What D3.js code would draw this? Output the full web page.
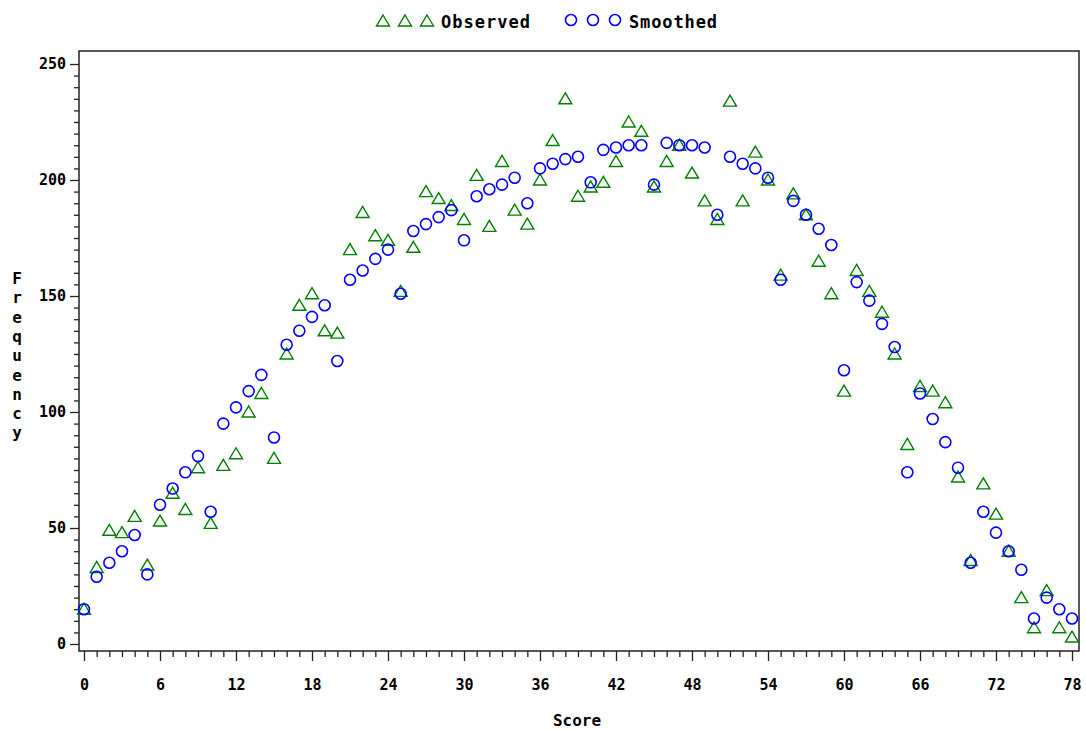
<!DOCTYPE html>
<html>
<head>
<meta charset="utf-8">
<script src="https://cdn.jsdelivr.net/npm/d3@7"></script>
<style>
  body { margin: 0; background: #fff; }
  svg text { font-family: "DejaVu Sans Mono", monospace; font-weight: bold; fill: #000; }
</style>
</head>
<body>
<svg id="chart" width="1086" height="730"></svg>
<script>
// scores 0..78
var scores = d3.range(0, 79);

// observed frequencies (triangles)
var observed = [15, 33, 49, 48, 55, 34, 53, 65, 58, 76,
  52, 77, 82, 100, 108, 80, 125, 146, 151, 135,
  134, 170, 186, 176, 174, 152, 171, 195, 192, 189,
  183, 202, 180, 208, 187, 181, 200, 217, 235, 193,
  197, 199, 208, 225, 221, 197, 208, 215, 203, 191,
  183, 234, 191, 212, 200, 159, 194, 185, 165, 151,
  109, 161, 152, 143, 125, 86, 111, 109, 104, 72,
  36, 69, 56, 40, 20, 7, 23, 7, 3];

// smoothed frequencies (circles)
var smoothed = [15, 29, 35, 40, 47, 30, 60, 67, 74, 81,
  57, 95, 102, 109, 116, 89, 129, 135, 141, 146,
  122, 157, 161, 166, 170, 151, 178, 181, 184, 187,
  174, 193, 196, 198, 201, 190, 205, 207, 209, 210,
  199, 213, 214, 215, 215, 198, 216, 215, 215, 214,
  185, 210, 207, 205, 201, 157, 191, 185, 179, 172,
  118, 156, 148, 138, 128, 74, 108, 97, 87, 76,
  35, 57, 48, 40, 32, 11, 20, 15, 11];

var xTicks = d3.range(0, 79, 6);
var yTicks = [0, 50, 100, 150, 200, 250];

var svg = d3.select('#chart');

var frame = {left: 79, top: 51, right: 1079, bottom: 651};

var x = d3.scaleLinear().domain([0, 78]).range([84, 1072]);
var y = d3.scaleLinear().domain([0, 250]).range([644, 64]);

var green = '#008000', blue = '#0000ff';

// plot frame
svg.append('rect')
  .attr('x', frame.left).attr('y', frame.top)
  .attr('width', frame.right - frame.left)
  .attr('height', frame.bottom - frame.top)
  .attr('fill', 'none').attr('stroke', '#222').attr('stroke-width', 1.5);

// x axis: minor ticks every unit, major every 6
var xMinor = svg.append('g').attr('transform', 'translate(0,' + frame.bottom + ')')
  .call(d3.axisBottom(x).tickValues(d3.range(0, 79).filter(function(d){ return d % 6; }))
    .tickSize(6).tickFormat(''));
var xMajor = svg.append('g').attr('transform', 'translate(0,' + frame.bottom + ')')
  .call(d3.axisBottom(x).tickValues(xTicks).tickSize(10).tickPadding(18));
[xMinor, xMajor].forEach(function(g){
  g.select('.domain').remove();
  g.selectAll('line').attr('stroke', '#222').attr('stroke-width', 1.3);
});
xMajor.selectAll('text').style('font-size', '15px').attr('fill', '#000');

// y axis: minor every 5, major every 50
var yMinor = svg.append('g').attr('transform', 'translate(' + frame.left + ',0)')
  .call(d3.axisLeft(y).tickValues(d3.range(0, 251, 5).filter(function(d){ return d % 50; }))
    .tickSize(5).tickFormat(''));
var yMajor = svg.append('g').attr('transform', 'translate(' + frame.left + ',0)')
  .call(d3.axisLeft(y).tickValues(yTicks).tickSize(9).tickPadding(4));
[yMinor, yMajor].forEach(function(g){
  g.select('.domain').remove();
  g.selectAll('line').attr('stroke', '#222').attr('stroke-width', 1.3);
});
yMajor.selectAll('text').style('font-size', '15px').attr('fill', '#000');

// triangle symbol path
var tri = 'M0,-6L6.5,5L-6.5,5Z';

// observed
svg.append('g').selectAll('path')
  .data(scores)
  .enter().append('path')
  .attr('d', tri)
  .attr('transform', function(d){ return 'translate(' + x(d) + ',' + y(observed[d]) + ')'; })
  .attr('fill', 'none').attr('stroke', green).attr('stroke-width', 1.4);

// smoothed
svg.append('g').selectAll('circle')
  .data(scores)
  .enter().append('circle')
  .attr('cx', function(d){ return x(d); })
  .attr('cy', function(d){ return y(smoothed[d]); })
  .attr('r', 5.5)
  .attr('fill', 'none').attr('stroke', blue).attr('stroke-width', 1.6);

// axis titles
svg.append('text')
  .attr('x', 577).attr('y', 726)
  .attr('text-anchor', 'middle')
  .style('font-size', '16px')
  .text('Score');

svg.append('g').selectAll('text')
  .data('Frequency'.split(''))
  .enter().append('text')
  .attr('x', 17)
  .attr('y', function(d, i){ return 284 + i * 19.3; })
  .attr('text-anchor', 'middle')
  .style('font-size', '16px')
  .text(function(d){ return d; });

// legend
var legend = svg.append('g');
[383, 405, 427].forEach(function(lx){
  legend.append('path').attr('d', tri)
    .attr('transform', 'translate(' + lx + ',21)')
    .attr('fill', 'none').attr('stroke', green).attr('stroke-width', 1.4);
});
legend.append('text').attr('x', 441).attr('y', 28).style('font-size', '17px')
  .attr('textLength', 89).text('Observed');
[571, 593, 615].forEach(function(lx){
  legend.append('circle').attr('cx', lx).attr('cy', 20).attr('r', 5.5)
    .attr('fill', 'none').attr('stroke', blue).attr('stroke-width', 1.6);
});
legend.append('text').attr('x', 629).attr('y', 28).style('font-size', '17px')
  .attr('textLength', 88).text('Smoothed');
</script>
</body>
</html>
